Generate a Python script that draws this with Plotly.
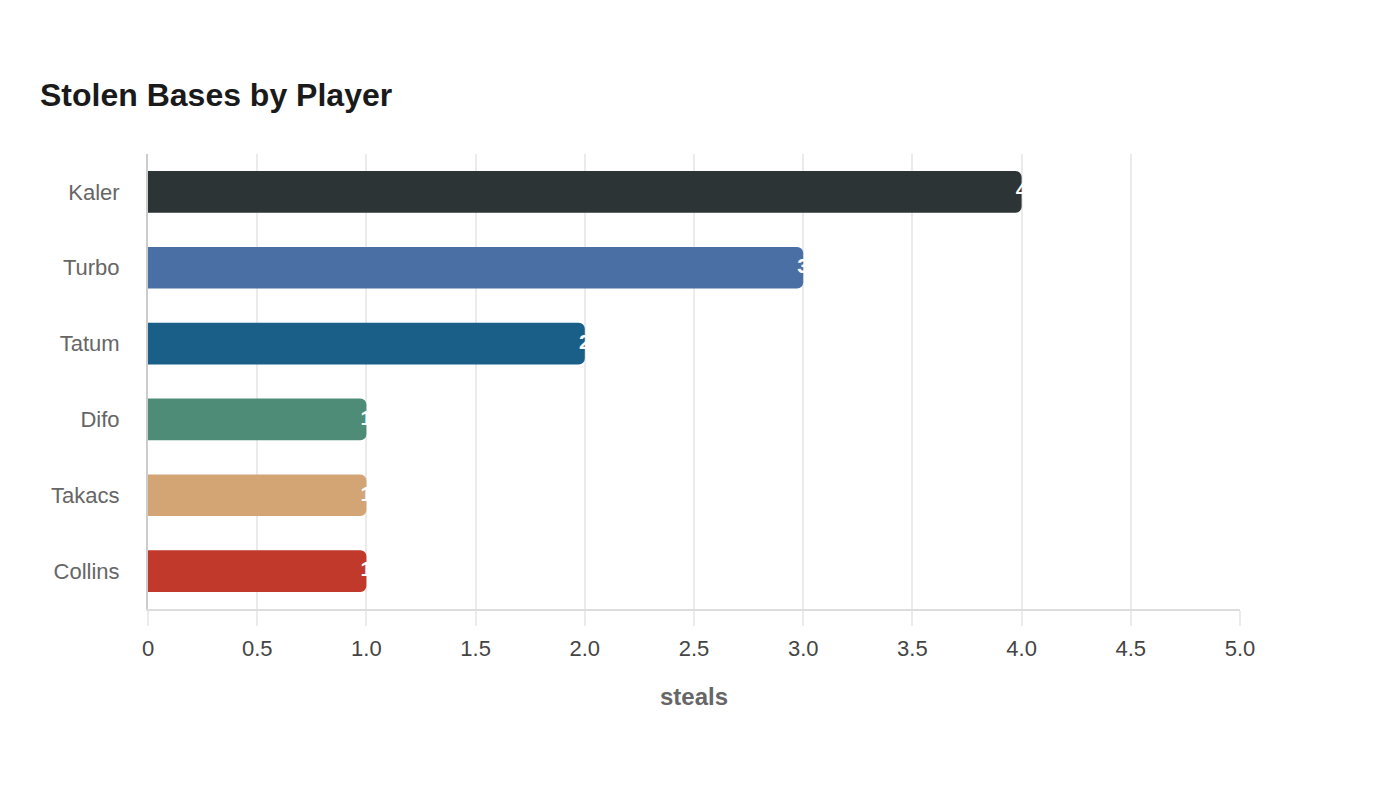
import plotly.graph_objects as go

players = ["Kaler", "Turbo", "Tatum", "Difo", "Takacs", "Collins"]
steals = [4, 3, 2, 1, 1, 1]
colors = ["#2d3436", "#4a6fa5", "#1a5f87", "#4e8c78", "#d4a574", "#c0392b"]
x_ticks = [0, 0.5, 1.0, 1.5, 2.0, 2.5, 3.0, 3.5, 4.0, 4.5, 5.0]
x_tick_labels = ["0", "0.5", "1.0", "1.5", "2.0", "2.5", "3.0", "3.5", "4.0", "4.5", "5.0"]

FONT = "Liberation Sans, Arial, sans-serif"

fig = go.Figure()
fig.add_trace(go.Bar(
    y=players, x=steals, orientation="h",
    marker=dict(color=colors, cornerradius=6, line=dict(width=0)),
    hoverinfo="x+y", showlegend=False,
))
fig.add_trace(go.Scatter(
    y=players, x=steals, mode="text",
    text=[str(v) for v in steals], textposition="middle center",
    textfont=dict(color="white", size=21, family=FONT, weight="bold"),
    cliponaxis=False, showlegend=False, hoverinfo="skip",
))

fig.update_layout(
    width=1400, height=800,
    margin=dict(l=148, r=160, t=154, b=191),
    paper_bgcolor="white", plot_bgcolor="white",
    font=dict(family=FONT),
    bargap=0.45,
    title=dict(text="<b>Stolen Bases by Player</b>", x=40/1400, xanchor="left",
               y=1-95/800, yanchor="middle", xref="container", yref="container",
               font=dict(size=32, color="#1a1a1a", family=FONT)),
)

fig.update_xaxes(
    range=[0, 5], tickvals=x_ticks, ticktext=x_tick_labels,
    showgrid=True, gridcolor="#ebebeb", gridwidth=1.5,
    showline=True, linecolor="#dddddd", linewidth=2,
    ticks="outside", ticklen=15, tickcolor="#ebebeb", tickwidth=1.5,
    tickfont=dict(size=22, color="#444444", family=FONT),
    ticklabelstandoff=4,
    zeroline=False,
    title=dict(text="<b>steals</b>", font=dict(size=24, color="#666666", family=FONT), standoff=28),
)
fig.update_yaxes(
    categoryorder="array", categoryarray=players[::-1],
    showgrid=False, showline=True, linecolor="#cccccc", linewidth=2,
    layer="above traces",
    ticks="", tickfont=dict(size=22, color="#666666", family=FONT),
    ticklabelstandoff=22, zeroline=False,
)

fig.write_html("out.html")
